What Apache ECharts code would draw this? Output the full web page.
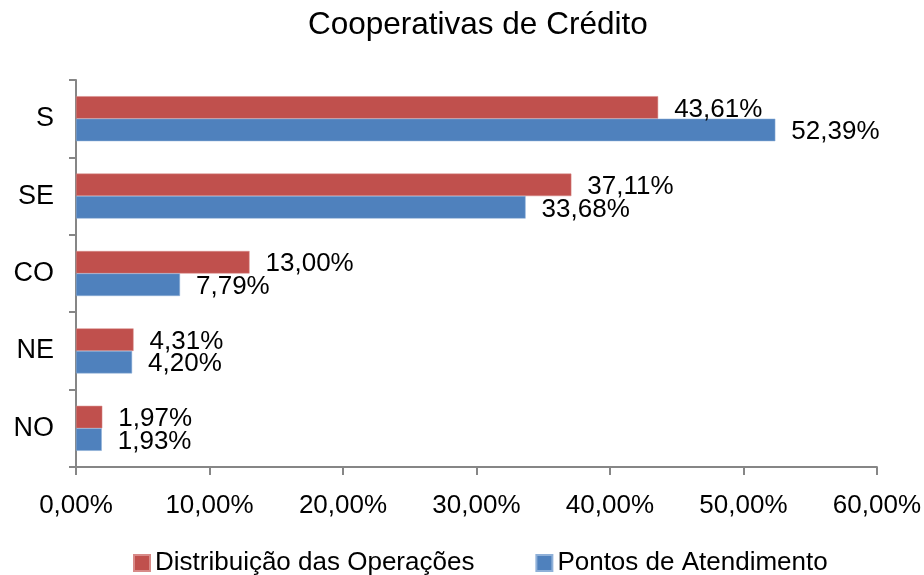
<!DOCTYPE html>
<html>
<head>
<meta charset="utf-8">
<script src="https://cdn.jsdelivr.net/npm/echarts@6/dist/echarts.min.js"></script>
<style>html,body{margin:0;padding:0;background:#fff}#c{width:924px;height:575px}</style>
</head>
<body>
<div id="c"></div>
<script>
const title = 'Cooperativas de Crédito';
const categories = ['S', 'SE', 'CO', 'NE', 'NO'];
const seriesNames = ['Distribuição das Operações', 'Pontos de Atendimento'];
const distribuicao = [43.61, 37.11, 13.00, 4.31, 1.97];
const pontos = [52.39, 33.68, 7.79, 4.20, 1.93];
const xTicks = [0, 10, 20, 30, 40, 50, 60];

const FONT = 'Liberation Sans, Arial, sans-serif';
const fmt = v => Number(v).toFixed(2).replace('.', ',') + '%';

const chart = echarts.init(document.getElementById('c'), null, {renderer: 'canvas'});
const labelCfg = {
  show: true, position: 'right', distance: 16, offset: [0, 2],
  fontFamily: FONT, fontSize: 26, color: '#000',
  formatter: p => fmt(p.value)
};
chart.setOption({
  animation: false,
  backgroundColor: '#fff',
  title: {
    text: title, left: 303, top: 4,
    textStyle: {fontFamily: FONT, fontSize: 31.5, fontWeight: 'normal', color: '#000'}
  },
  legend: {
    data: seriesNames, left: 133, top: 550, padding: 0,
    itemWidth: 16, itemHeight: 16, itemGap: 61, icon: 'rect',
    textStyle: {fontFamily: FONT, fontSize: 26, color: '#000'}
  },
  grid: {left: 76, right: 47, top: 80, bottom: 108, containLabel: false},
  xAxis: {
    type: 'value', min: xTicks[0], max: xTicks[xTicks.length - 1], interval: 10,
    axisLine: {show: true, lineStyle: {color: '#868686', width: 2}},
    axisTick: {show: true, length: 8, lineStyle: {color: '#868686', width: 2}},
    splitLine: {show: false},
    axisLabel: {fontFamily: FONT, fontSize: 26, color: '#000', margin: 26, formatter: v => fmt(v)}
  },
  yAxis: {
    type: 'category', data: categories, inverse: true,
    axisLine: {show: true, lineStyle: {color: '#868686', width: 2}},
    axisTick: {show: true, length: 7, lineStyle: {color: '#868686', width: 2}},
    axisLabel: {fontFamily: FONT, fontSize: 27, color: '#000', margin: 22, padding: [4, 0, 0, 0]}
  },
  series: [
    {name: seriesNames[0], type: 'bar', data: distribuicao, barWidth: 22.5, barGap: '0%',
     itemStyle: {color: '#C0504D', borderColor: '#D88A88', borderWidth: 0.5}, label: labelCfg},
    {name: seriesNames[1], type: 'bar', data: pontos, barWidth: 22.5, barGap: '0%',
     itemStyle: {color: '#4F81BD', borderColor: '#8FB0D8', borderWidth: 0.5}, label: labelCfg}
  ]
});
</script>
</body>
</html>
